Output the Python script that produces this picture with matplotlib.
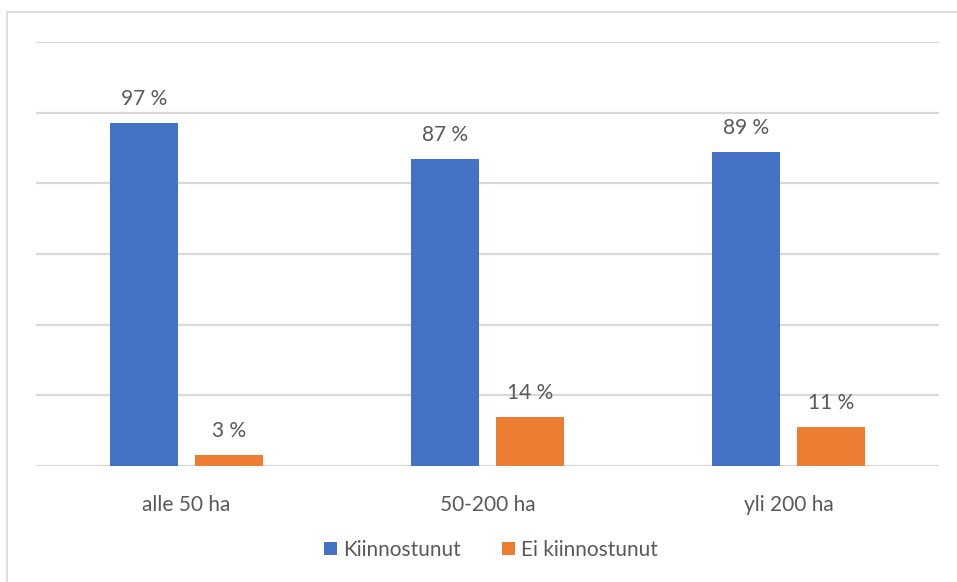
import matplotlib
matplotlib.use("Agg")
import matplotlib.pyplot as plt
from matplotlib.patches import Rectangle
import numpy as np

categories = ["alle 50 ha", "50-200 ha", "yli 200 ha"]
series_names = ["Kiinnostunut", "Ei kiinnostunut"]
kiinnostunut = [97, 87, 89]
ei_kiinnostunut = [3, 14, 11]
colors = ["#4472C4", "#ED7D31"]
text_color = "#595959"
grid_color = "#D9D9D9"

plt.rcParams['font.family'] = ['Lato', 'DejaVu Sans']

W, H = 957, 582
fig = plt.figure(figsize=(W / 100, H / 100), dpi=100)
fig.patch.set_facecolor("white")

# chart border (partially visible)
fig.patches.append(Rectangle((7 / W, -0.05), 1.2, (H - 12) / H + 0.05,
                             transform=fig.transFigure, fill=False,
                             edgecolor=grid_color, linewidth=1.2))

ax = fig.add_axes([36 / W, (H - 466) / H, (939 - 36) / W, (466 - 42) / H])
x = np.arange(len(categories))
bw = 0.226
off = 0.141
b1 = ax.bar(x - off, kiinnostunut, bw, color=colors[0], label=series_names[0], zorder=3)
b2 = ax.bar(x + off, ei_kiinnostunut, bw, color=colors[1], label=series_names[1], zorder=3)

for bars, vals in ((b1, kiinnostunut), (b2, ei_kiinnostunut)):
    for b, v in zip(bars, vals):
        ax.annotate(f"{v} %", (b.get_x() + b.get_width() / 2, v),
                    xytext=(0, 14), textcoords="offset pixels",
                    ha="center", va="bottom", fontsize=15, color=text_color)

ax.set_xlim(-0.5, 2.5)
ax.set_ylim(0, 120)
ax.set_yticks(np.arange(0, 121, 20))
ax.yaxis.grid(True, color=grid_color, linewidth=1.6, zorder=0)
ax.set_axisbelow(True)
ax.tick_params(axis="y", left=False, labelleft=False)
ax.set_xticks(x)
ax.set_xticklabels(categories, fontsize=15, color=text_color)
ax.tick_params(axis="x", length=0, pad=21)
for s in ax.spines.values():
    s.set_visible(False)

leg = fig.legend(handles=[b1, b2], labels=series_names, loc="center",
                 bbox_to_anchor=(491 / W, (H - 550) / H), ncol=2, frameon=False,
                 fontsize=15, handlelength=0.6, handleheight=0.6,
                 handletextpad=0.3, columnspacing=2.0)
for t in leg.get_texts():
    t.set_color(text_color)

fig.savefig("out.png", dpi=100, facecolor="white")
